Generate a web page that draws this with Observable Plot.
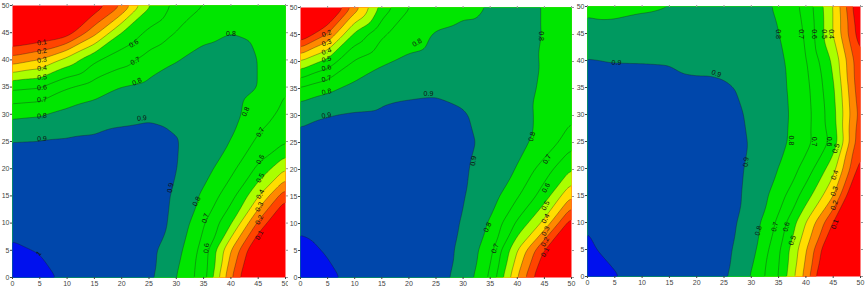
<!DOCTYPE html>
<html><head><meta charset="utf-8">
<script src="https://cdn.jsdelivr.net/npm/d3@7"></script>
<script src="https://cdn.jsdelivr.net/npm/@observablehq/plot@0.6"></script>
<style>
body{margin:0;background:#fff;}
#wrap{position:relative;width:865px;height:289px;overflow:hidden;}
#wrap svg{position:absolute;top:0;}
</style></head><body><div id="wrap"></div>
<script>
// grid coordinates
const xs = [0,5,10,15,20,25,30,35,40,45,50];
const ys = [50,45,40,35,30,25,20,15,10,5,0];
const tickValues = [0,5,10,15,20,25,30,35,40,45,50];
// contour levels and band colours
const levels = [-1,0.1,0.2,0.3,0.4,0.5,0.6,0.7,0.8,0.9,1.0];
const lineLevels = [0.1,0.2,0.3,0.4,0.5,0.6,0.7,0.8,0.9,1.0];
const colorDomain = [0.1,0.2,0.3,0.4,0.5,0.6,0.7,0.8,0.9,1.0];
const bandColors = ["#ff0000","#ff4400","#ff8800","#ffdd00","#aaff00","#00e600","#00e600","#00e600","#009960","#0047ab","#0011ee"];

// panel values (rows y=50..0, columns x=0..50)
const panel1 = [
  [-0.15,-0.10,-0.05,0.03,0.20,0.49,0.63,0.70,0.73,0.73,0.72],
  [-0.05,-0.01,0.045,0.264,0.509,0.624,0.705,0.78,0.80,0.785,0.74],
  [0.244,0.304,0.438,0.582,0.659,0.743,0.797,0.825,0.835,0.80,0.72],
  [0.576,0.595,0.692,0.749,0.803,0.827,0.84,0.845,0.84,0.80,0.705],
  [0.777,0.79,0.83,0.856,0.883,0.89,0.88,0.86,0.83,0.75,0.67],
  [0.902,0.905,0.91,0.915,0.92,0.925,0.905,0.854,0.80,0.68,0.61],
  [0.93,0.93,0.935,0.935,0.935,0.94,0.902,0.84,0.728,0.58,0.405],
  [0.96,0.955,0.95,0.945,0.94,0.935,0.89,0.78,0.638,0.41,0.13],
  [0.99,0.98,0.97,0.955,0.945,0.93,0.885,0.709,0.514,0.18,-0.07],
  [1.005,0.998,0.975,0.96,0.945,0.925,0.84,0.66,0.30,-0.03,-0.12],
  [1.02,1.012,0.992,0.96,0.94,0.92,0.802,0.646,0.214,-0.12,-0.15]
];
const panel2 = [
  [-0.25,-0.11,0.245,0.53,0.70,0.74,0.775,0.805,0.82,0.797,0.76],
  [0.0,0.21,0.527,0.687,0.753,0.81,0.83,0.83,0.825,0.797,0.76],
  [0.408,0.535,0.713,0.785,0.82,0.835,0.84,0.84,0.83,0.7925,0.75],
  [0.712,0.775,0.83,0.87,0.885,0.89,0.87,0.85,0.835,0.785,0.74],
  [0.885,0.9,0.91,0.915,0.92,0.92,0.91,0.86,0.84,0.773,0.72],
  [0.918,0.925,0.93,0.93,0.935,0.935,0.925,0.871,0.82,0.772,0.63],
  [0.945,0.945,0.945,0.945,0.94,0.94,0.91,0.865,0.795,0.645,0.50],
  [0.97,0.965,0.96,0.95,0.945,0.935,0.905,0.845,0.71,0.547,0.30],
  [0.993,0.985,0.97,0.955,0.945,0.935,0.895,0.788,0.582,0.367,0.04],
  [1.01,0.997,0.98,0.96,0.945,0.93,0.885,0.733,0.40,0.09,-0.05],
  [1.025,1.008,0.99,0.965,0.945,0.93,0.87,0.682,0.30,-0.03,-0.10]
];
const panel3 = [
  [0.78,0.77,0.785,0.797,0.81,0.82,0.83,0.79,0.67,0.40,-0.02],
  [0.83,0.835,0.845,0.85,0.85,0.85,0.84,0.805,0.69,0.40,0.03],
  [0.905,0.898,0.897,0.895,0.88,0.86,0.845,0.825,0.71,0.48,0.11],
  [0.925,0.925,0.925,0.92,0.915,0.915,0.875,0.83,0.73,0.52,0.12],
  [0.945,0.945,0.94,0.935,0.93,0.925,0.89,0.835,0.74,0.54,0.15],
  [0.96,0.955,0.95,0.945,0.94,0.93,0.895,0.83,0.735,0.57,0.12],
  [0.97,0.965,0.96,0.955,0.945,0.94,0.885,0.80,0.663,0.44,0.05],
  [0.98,0.975,0.965,0.955,0.945,0.935,0.88,0.75,0.55,0.31,-0.11],
  [0.998,0.985,0.97,0.955,0.945,0.935,0.86,0.676,0.40,0.10,-0.25],
  [1.005,0.99,0.975,0.96,0.945,0.925,0.84,0.62,0.31,-0.06,-0.30],
  [1.02,1.003,0.985,0.965,0.945,0.915,0.795,0.60,0.26,-0.17,-0.35]
];

// contour labels: [x, y, text, angle]
const labels1 = [
  [5.4,43.2,"0.1",-10],[5.4,41.6,"0.2",-10],[5.4,40.0,"0.3",-10],[5.4,38.5,"0.4",-8],[5.4,36.8,"0.5",-6],
  [5.4,34.9,"0.6",-5],[5.4,32.7,"0.7",-5],[5.4,29.7,"0.8",-4],[5.4,25.5,"0.9",-3],
  [22.2,43.0,"0.6",-30],[22.5,39.8,"0.7",-28],[22.8,36.0,"0.8",-25],[23.7,29.3,"0.9",-5],
  [40.0,44.8,"0.8",0],[42.7,30.5,"0.8",-65],[45.4,26.7,"0.7",-62],
  [28.9,16.5,"0.9",-80],[33.7,14.0,"0.8",-62],[35.3,10.9,"0.7",-72],[35.5,5.4,"0.6",-85],
  [45.4,21.7,"0.6",-62],[45.4,18.3,"0.5",-62],[45.4,15.3,"0.4",-62],[45.2,13.0,"0.3",-62],[45.2,10.6,"0.2",-62],[45.2,7.8,"0.1",-62],
  [4.8,4.4,"1",-50]
];
const labels2 = [
  [4.8,45.2,"0.2",-20],[4.8,43.5,"0.3",-20],[4.8,41.9,"0.4",-18],[4.8,40.4,"0.5",-16],[4.8,38.8,"0.6",-14],
  [4.8,36.8,"0.7",-14],[4.8,34.4,"0.8",-12],[4.8,30.0,"0.9",-10],
  [21.5,43.5,"0.8",-30],[23.6,34.1,"0.9",0],[44.4,44.7,"0.8",90],[42.7,26.1,"0.8",-75],
  [31.9,21.6,"0.9",-82],[34.5,9.3,"0.8",-65],[35.9,5.4,"0.7",-70],
  [45.5,21.9,"0.7",-62],[45.3,16.6,"0.6",-62],[45.2,13.3,"0.5",-62],[45.2,10.9,"0.4",-62],[45.2,8.6,"0.3",-62],[45.1,6.6,"0.2",-62],[45.1,4.7,"0.1",-62]
];
const labels3 = [
  [5.3,39.6,"0.9",0],[23.6,37.6,"0.9",20],
  [34.9,44.9,"0.8",90],[39.2,44.9,"0.7",90],[41.6,44.9,"0.6",90],[43.3,44.9,"0.5",90],[44.7,44.9,"0.4",90],
  [37.4,25.2,"0.8",90],[41.5,25.0,"0.7",90],[44.2,25.0,"0.6",90],
  [29.0,21.2,"0.9",-85],[31.3,8.5,"0.8",-75],[34.3,9.2,"0.7",-75],[36.4,9.2,"0.6",-75],[37.5,6.7,"0.5",-70],
  [45.5,23.7,"0.5",-70],[45.3,18.8,"0.4",-70],[45.2,15.8,"0.3",-70],[45.2,13.2,"0.2",-70],[45.3,9.7,"0.1",-70]
];

function toPoints(grid){
  const pts = [];
  grid.forEach((row,i) => row.forEach((v,j) => pts.push({x: xs[j], y: ys[i], v})));
  return pts;
}

function panel(grid, labels, L){
  const pts = toPoints(grid);
  const common = {x: "x", y: "y", interpolate: "barycentric", blur: 3, pixelSize: 1};
  return Plot.plot({
    width: L.width, height: 289,
    marginLeft: L.ml, marginRight: L.mr, marginTop: L.mt, marginBottom: L.mb,
    style: {fontFamily: "Liberation Sans, Arial, sans-serif", background: "transparent"},
    x: {domain: [0,50], axis: null},
    y: {domain: [0,50], axis: null},
    color: {type: "threshold", domain: colorDomain, range: bandColors},
    marks: [
      Plot.contour(pts, {...common, fill: "v", thresholds: levels, stroke: "none"}),
      Plot.contour(pts, {...common, value: "v", thresholds: lineLevels, fill: "none",
        stroke: "#1a1a1a", strokeWidth: 0.45, strokeOpacity: 0.75}),
      Plot.text(labels, {x: d => d[0], y: d => d[1], text: d => d[2], rotate: d => d[3],
        fontSize: 7, fill: "#111"}),
      Plot.axisX({anchor: "bottom", ticks: tickValues, tickSize: 2, tickPadding: 1.5, fontSize: 7, label: null, color: "#444"}),
      Plot.axisY({anchor: "left", ticks: tickValues, tickSize: 2, tickPadding: 1, fontSize: 7, label: null, color: "#444"}),
      Plot.axisX({anchor: "top", ticks: tickValues, tickSize: 2, tickFormat: () => "", label: null, color: "#999"}),
      Plot.axisY({anchor: "right", ticks: tickValues, tickSize: 2, tickFormat: () => "", label: null, color: "#999"})
    ]
  });
}

const wrap = document.getElementById("wrap");
const layouts = [
  {left: 0, width: 288, ml: 12, mr: 3, mt: 5, mb: 12},
  {left: 288, width: 288, ml: 12, mr: 5, mt: 7, mb: 12},
  {left: 576, width: 289, ml: 11, mr: 5, mt: 6, mb: 13}
];
const NS = "http://www.w3.org/2000/svg";
[[panel1, labels1], [panel2, labels2], [panel3, labels3]].forEach(([g, lab], i) => {
  const L = layouts[i];
  const svg = panel(g, lab, L);
  svg.style.left = L.left + "px";
  // hide the contour-line segments that run along the frame edges
  const groups = svg.querySelectorAll('g[aria-label="contour"]');
  const lineG = groups[groups.length - 1];
  const defs = document.createElementNS(NS, "defs");
  const cp = document.createElementNS(NS, "clipPath");
  cp.setAttribute("id", "inner" + i);
  const r = document.createElementNS(NS, "rect");
  r.setAttribute("x", L.ml + 0.8);
  r.setAttribute("y", L.mt + 0.8);
  r.setAttribute("width", L.width - L.ml - L.mr - 1.6);
  r.setAttribute("height", 289 - L.mt - L.mb - 1.6);
  cp.appendChild(r); defs.appendChild(cp);
  svg.insertBefore(defs, svg.firstChild);
  if (lineG) lineG.setAttribute("clip-path", `url(#inner${i})`);
  wrap.appendChild(svg);
});
</script>
</body></html>
